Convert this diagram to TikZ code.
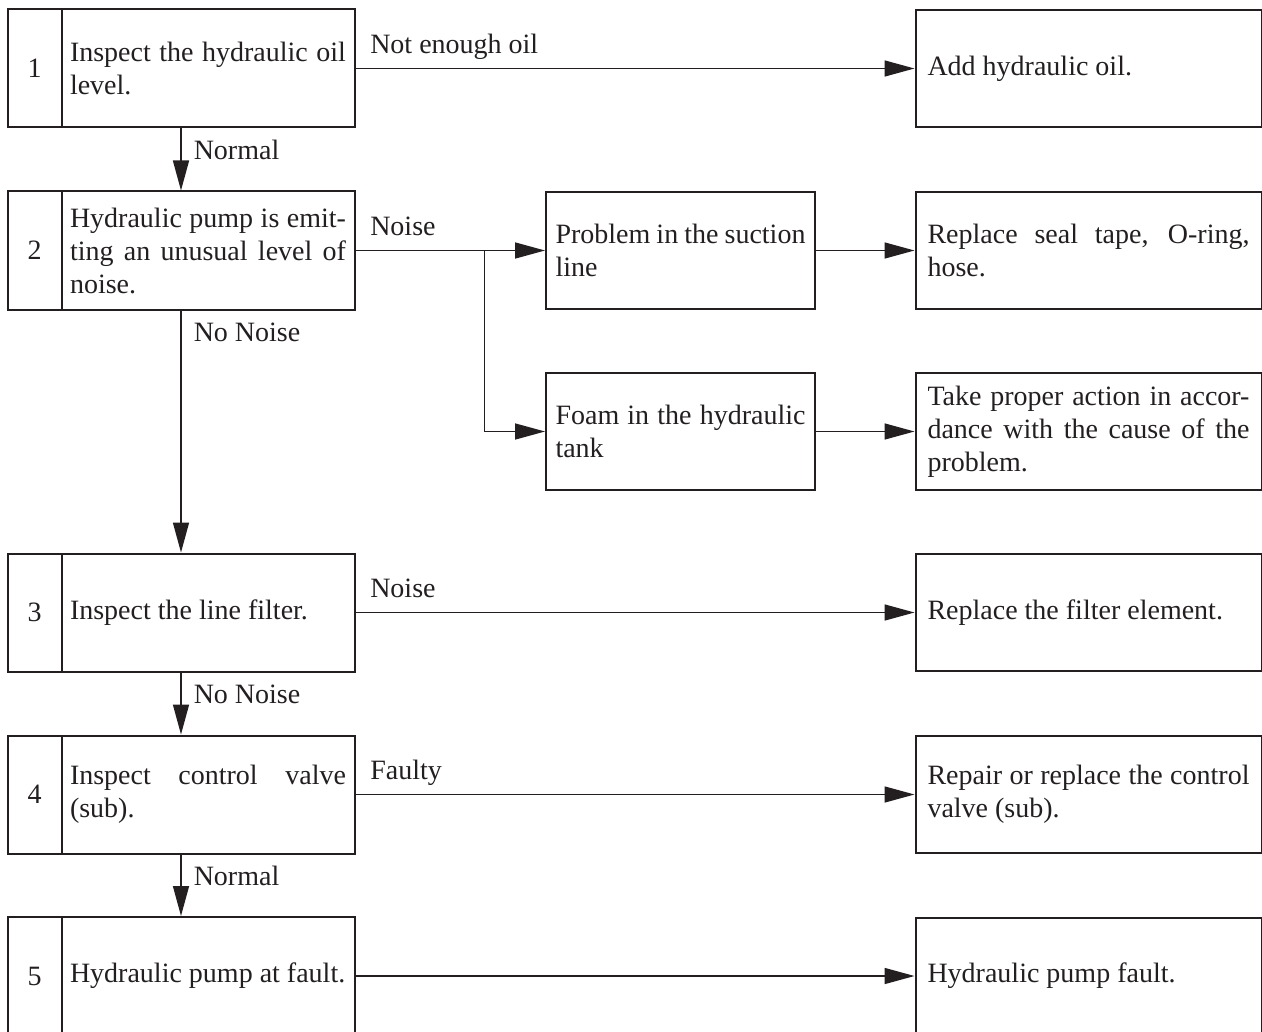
\documentclass[tikz,border=0pt]{standalone}
\usepackage{fontspec}
\setmainfont{Liberation Serif}
\usetikzlibrary{arrows.meta, positioning, fit}
\definecolor{ink}{HTML}{231F20}
\newcommand{\boxfont}{\fontsize{14pt}{16.5pt}\selectfont}

\begin{document}
\begin{tikzpicture}[x=0.5pt, y=-0.5pt, >={Triangle[length=15pt, width=8pt]}, ink, line width=0.75pt,
  txt/.style={draw, line width=0.5pt, font=\boxfont, text width=138pt, inner xsep=4pt, minimum height=58.5pt, align=justify},
  num/.style={draw, line width=0.5pt, font=\boxfont, minimum width=26.5pt, minimum height=58.5pt, inner sep=0pt},
  frame/.style={draw, line width=1pt, inner sep=0pt},
  mid/.style={draw, line width=1pt, font=\boxfont, text width=125pt, inner xsep=4.75pt, minimum height=58.5pt, align=justify},
  res/.style={draw, line width=1pt, font=\boxfont, text width=161pt, inner xsep=6pt, minimum height=58.5pt, align=justify},
  cond/.style={font=\boxfont, anchor=base west, inner sep=0pt, xshift=7pt, yshift=7.5pt},
  down/.style={font=\boxfont, anchor=base west, inner sep=0pt, xshift=6pt, yshift=-15.5pt}]
  \useasboundingbox (0,0) rectangle (1262,1032);
  \clip (0,0) rectangle (1262,1032);

  % check steps
  \foreach \i/\y/\t in {1/68.5/{Inspect the hydraulic oil\linebreak level.},
      2/250.5/{Hydraulic pump is emit-\linebreak ting an unusual level of\linebreak noise.},
      3/612.5/{Inspect the line filter.},
      4/794.5/{Inspect control valve\linebreak (sub).},
      5/976/{Hydraulic pump at fault.}}{
    \node[txt] (s\i) at (208,\y) {\t};
    \node[num, left=0pt of s\i] (n\i) {\i};
    \node[frame, fit=(n\i)(s\i)] (b\i) {};
  }

  % causes
  \node[mid] (m1) at (680.5,250.5) {Problem in the suction\linebreak line};
  \node[mid] (m2) at (680.5,431.5) {Foam in the hydraulic\linebreak tank};

  % remedies
  \node[res] (r1) at (1088.5,68.5) {Add hydraulic oil.};
  \node[res] (r2) at (1088.5,250.5) {Replace seal tape, O-ring,\linebreak hose.};
  \node[res] (r2b) at (1088.5,431.5) {Take proper action in accor-\linebreak dance with the cause of the\linebreak problem.};
  \node[res] (r3) at (1088.5,612.5) {Replace the filter element.};
  \node[res] (r4) at (1088.5,794.5) {Repair or replace the control\linebreak valve (sub).};
  \node[res] (r5) at (1088.5,976) {Hydraulic pump fault.};

  % connectors
  \draw[->] (b1.east) -- node[cond, pos=0] {Not enough oil} (r1.west);
  \draw[->] (b1.south) -- node[down, pos=0] {Normal} (b2.north);
  \draw[->] (b2.east) -- node[cond, pos=0] {Noise} (m1.west);
  \coordinate (fork) at (484,250.5);
  \draw[line width=0.5pt] (fork) -- (fork |- m2.west);
  \draw[->] (fork |- m2.west) -- (m2.west);
  \draw[->] (m1.east) -- (r2.west);
  \draw[->] (m2.east) -- (r2b.west);
  \draw[->] (b2.south) -- node[down, pos=0] {No Noise} (b3.north);
  \draw[->] (b3.east) -- node[cond, pos=0] {Noise} (r3.west);
  \draw[->] (b3.south) -- node[down, pos=0] {No Noise} (b4.north);
  \draw[->] (b4.east) -- node[cond, pos=0] {Faulty} (r4.west);
  \draw[->] (b4.south) -- node[down, pos=0] {Normal} (b5.north);
  \draw[->] (b5.east) -- (r5.west);
\end{tikzpicture}
\end{document}
